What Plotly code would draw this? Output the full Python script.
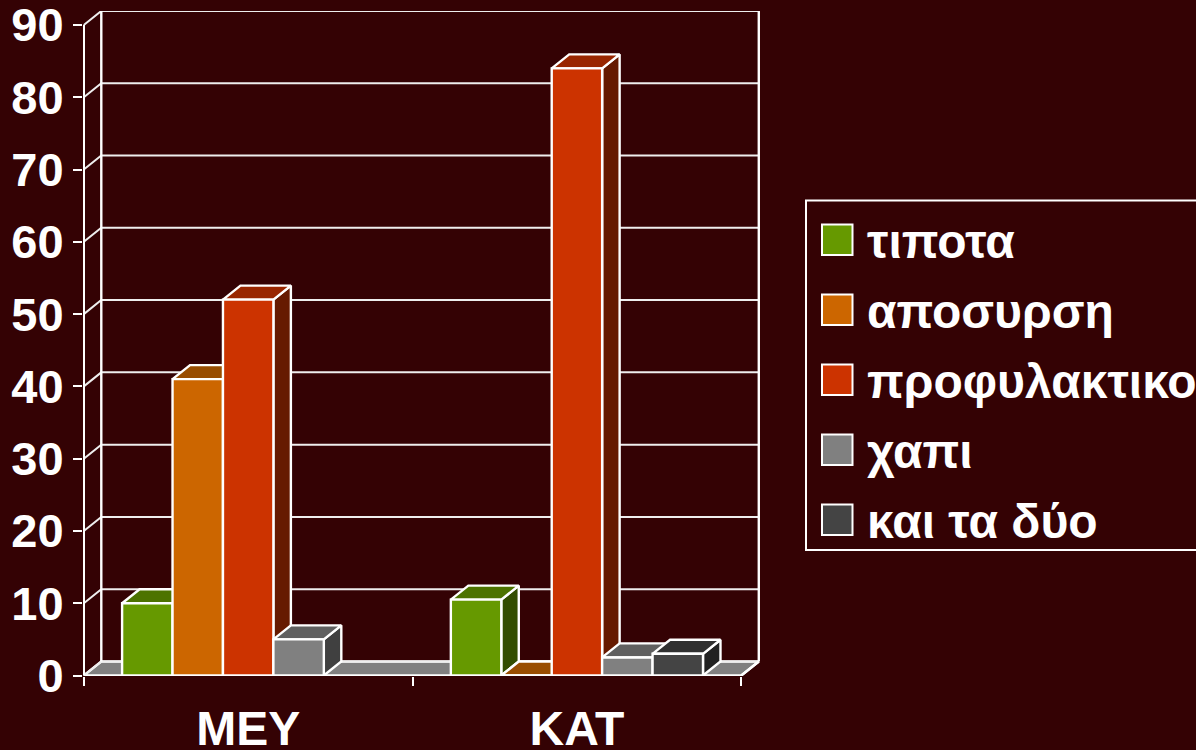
import plotly.graph_objects as go

categories = ["ΜΕΥ", "ΚΑΤ"]
series_names = ["τιποτα", "αποσυρση", "προφυλακτικο", "χαπι", "και τα δύο"]
tipota = [10, 10.5]
aposyrsi = [41, 0]
profylaktiko = [52, 84]
xapi = [5, 2.5]
kai_ta_dyo = [None, 3]
series_values = [tipota, aposyrsi, profylaktiko, xapi, kai_ta_dyo]
front_colors = ["#669900", "#cc6600", "#cc3300", "#808080", "#444444"]
top_colors = ["#4d7300", "#994d00", "#992600", "#606060", "#303030"]
side_colors = ["#334d00", "#663300", "#661a00", "#404040", "#222222"]
y_ticks = list(range(0, 100, 10))

BG = "#340204"
WHITE = "#ffffff"
FONT = "Liberation Sans"
FS_TICK = 47
FS_CAT = 48
FS_LEG = 48

W, H = 1196, 750
L, R_PX, T, B_PX = 83, 760, 11, 676
PX_PER_GROUP = 328.75
PX_PER_UNIT = 7.228
DX = 0.0532   # depth of the 3-D box, x units
DY = 1.94     # depth of the 3-D box, value units
X_END = len(categories) + DX
X_RANGE = [-0.8 / PX_PER_GROUP, -0.8 / PX_PER_GROUP + (R_PX - L) / PX_PER_GROUP]
Y_RANGE = [-0.5 / PX_PER_UNIT, -0.5 / PX_PER_UNIT + (B_PX - T) / PX_PER_UNIT]
BAR_GROUP = 0.767
BAR_W = BAR_GROUP / len(series_names)
LW = 2.4

fig = go.Figure()


def lines(xs, ys, color=WHITE, width=LW):
    fig.add_trace(go.Scatter(x=xs, y=ys, mode="lines", line=dict(color=color, width=width),
                             hoverinfo="skip", showlegend=False, cliponaxis=False))


def poly(xs, ys, fill, width=LW):
    fig.add_trace(go.Scatter(x=xs, y=ys, mode="lines", fill="toself", fillcolor=fill,
                             line=dict(color=WHITE, width=width),
                             hoverinfo="skip", showlegend=False, cliponaxis=False))


# floor
poly([0, X_END - DX, X_END, DX, 0], [0, 0, DY, DY, 0], "#808080")
# back wall grid lines and left wall diagonals
for v in y_ticks:
    lines([0, DX, X_END], [v, v + DY, v + DY], color="#eeeeee", width=2)
# wall frame
lines([0, 0], [0, 90])
lines([DX, DX], [DY, 90 + DY])
lines([X_END, X_END], [DY, 90 + DY])
lines([X_END - DX, X_END], [0, DY])

# depth faces of every bar
for i, vals in enumerate(series_values):
    sx, sy, tx, ty = [], [], [], []
    for g, v in enumerate(vals):
        if v is None:
            continue
        x0 = g + 0.5 - BAR_GROUP / 2 + i * BAR_W
        x1 = x0 + BAR_W
        sx += [x1, x1 + DX, x1 + DX, x1, x1, None]
        sy += [0, DY, v + DY, v, 0, None]
        tx += [x0, x0 + DX, x1 + DX, x1, x0, None]
        ty += [v, v + DY, v + DY, v, v, None]
    poly(sx, sy, side_colors[i])
    poly(tx, ty, top_colors[i])

# front faces on an overlaid axis pair, so they sit above all depth faces
for i, vals in enumerate(series_values):
    fig.add_trace(go.Bar(x=[0.5 + g for g in range(len(categories))], y=vals, name=series_names[i],
                         marker=dict(color=front_colors[i], line=dict(color=WHITE, width=LW)),
                         xaxis="x2", yaxis="y2", cliponaxis=False, showlegend=False))


def px_x(p):
    return (p - L) / (R_PX - L)


def px_y(p):
    return (B_PX - p) / (B_PX - T)


shapes = [dict(type="rect", xref="paper", yref="paper", x0=px_x(806), x1=px_x(1230),
               y0=px_y(550), y1=px_y(200.5), line=dict(color=WHITE, width=2), fillcolor=BG, layer="below")]
annotations = []
for i, name in enumerate(series_names):
    top = 224.5 + 70 * i
    shapes.append(dict(type="rect", xref="paper", yref="paper", x0=px_x(822), x1=px_x(852.5),
                       y0=px_y(top + 30.5), y1=px_y(top), fillcolor=front_colors[i],
                       line=dict(color=WHITE, width=2)))
    annotations.append(dict(text=name, xref="paper", yref="paper", x=px_x(865), y=px_y(top + 17),
                            xanchor="left", yanchor="middle", showarrow=False, align="left",
                            font=dict(family=FONT, size=FS_LEG, color=WHITE, weight=700)))

fig.update_layout(
    width=W, height=H, paper_bgcolor=BG, plot_bgcolor=BG,
    margin=dict(l=L, r=W - R_PX, t=T, b=H - B_PX, pad=0, autoexpand=False),
    showlegend=False, barmode="group", bargap=1 - BAR_GROUP, bargroupgap=0,
    shapes=shapes, annotations=annotations,
    xaxis=dict(range=X_RANGE, showgrid=False, zeroline=False, showline=False,
               tickmode="array", tickvals=[0.5 + g for g in range(len(categories))], ticktext=categories,
               ticks="", ticklabelstandoff=20, ticklabeloverflow="allow",
               tickfont=dict(family=FONT, size=FS_CAT, color=WHITE, weight=700),
               minor=dict(tickmode="array", tickvals=list(range(len(categories) + 1)), ticks="outside",
                          ticklen=9, tickwidth=2, tickcolor=WHITE)),
    yaxis=dict(range=Y_RANGE, showgrid=False, zeroline=False, showline=False,
               tickmode="array", tickvals=y_ticks, ticks="outside", ticklen=9, tickwidth=2,
               tickcolor=WHITE, ticklabelstandoff=0, ticklabeloverflow="allow",
               tickfont=dict(family=FONT, size=FS_TICK, color=WHITE, weight=700)),
    xaxis2=dict(range=X_RANGE, overlaying="x", visible=False),
    yaxis2=dict(range=Y_RANGE, overlaying="y", visible=False),
)

fig.write_html("out.html", config=dict(displayModeBar=False),
               post_script="document.body.style.margin='0';document.body.style.overflow='hidden';")
